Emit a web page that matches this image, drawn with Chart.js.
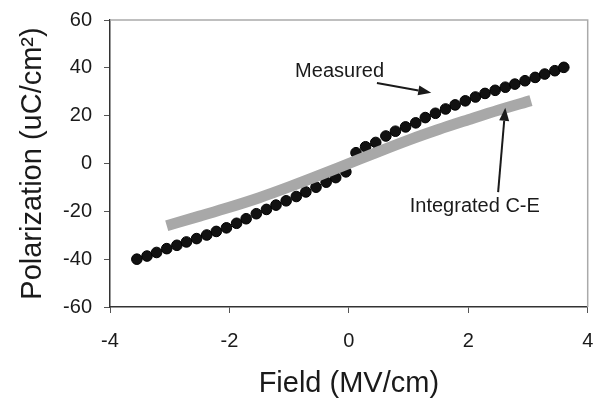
<!DOCTYPE html>
<html>
<head>
<meta charset="utf-8">
<script src="https://cdn.jsdelivr.net/npm/chart.js@4/dist/chart.umd.min.js"></script>
<style>
    html, body { margin: 0; padding: 0; background: #fff; }
    #wrap { width: 594px; height: 398px; position: relative; }
</style>
</head>
<body>
<div id="wrap"><canvas id="myChart"></canvas></div>
<script>
// measured polarization (dots)
const measuredField = [-3.55, -3.38, -3.22, -3.05, -2.88, -2.72, -2.55, -2.38, -2.22, -2.05,
    -1.88, -1.72, -1.55, -1.38, -1.22, -1.05, -0.88, -0.72, -0.55, -0.38, -0.22, -0.05,
    0.12, 0.28, 0.45, 0.62, 0.78, 0.95, 1.12, 1.28, 1.45, 1.62, 1.78, 1.95, 2.12, 2.28,
    2.45, 2.62, 2.78, 2.95, 3.12, 3.28, 3.45, 3.6]
const measuredPol = [-40.0, -38.7, -37.2, -35.6, -34.2, -32.8, -31.4, -29.9, -28.4, -26.9,
    -25.0, -23.1, -21.0, -19.2, -17.4, -15.6, -13.8, -11.9, -9.9, -7.8, -5.9, -3.5,
    4.5, 7.0, 8.8, 11.5, 13.5, 15.3, 17.0, 19.2, 21.0, 22.8, 24.5, 26.2, 27.8, 29.3,
    30.6, 31.9, 33.2, 34.6, 36.0, 37.4, 38.8, 40.2]

// integrated C-E (grey band)
const integratedField = [-3.05, -2.5, -2, -1.5, -1, -0.5, 0, 0.5, 1, 1.5, 2, 2.5, 3.05]
const integratedPol = [-26, -22, -18.3, -14.3, -9.8, -5, 0, 5, 9.8, 14.2, 18.3, 22.3, 26.3]

const xTicks = [-4, -2, 0, 2, 4]
const yTicks = [-60, -40, -20, 0, 20, 40, 60]

const toPoints = (xs, ys) => xs.map((x, i) => ({ x: x, y: ys[i] }))

// text labels with arrows, in data coordinates
const notes = [
    { text: 'Measured', x: -0.9, y: 38.3, tail: [0.47, 33.7], tip: [1.38, 29.6] },
    { text: 'Integrated C-E', x: 1.02, y: -17.9, tail: [2.5, -12], tip: [2.62, 23.3] }
]

const txt = '#1a1a1a'
const fontName = '"Liberation Sans", Arial, sans-serif'

const notesPlugin = {
    id: 'notes',
    afterDatasetsDraw(chart) {
        const ctx = chart.ctx
        const xs = chart.scales.x, ys = chart.scales.y
        const a = chart.chartArea
        ctx.save()
        // light frame on top and right
        ctx.strokeStyle = '#aaa'
        ctx.lineWidth = 1.5
        ctx.beginPath()
        ctx.moveTo(a.left, a.top)
        ctx.lineTo(a.right, a.top)
        ctx.lineTo(a.right, a.bottom)
        ctx.stroke()

        ctx.fillStyle = txt
        ctx.strokeStyle = txt
        ctx.font = '20px ' + fontName
        ctx.textBaseline = 'middle'
        ctx.textAlign = 'left'
        notes.forEach(n => {
            ctx.fillText(n.text, xs.getPixelForValue(n.x), ys.getPixelForValue(n.y))
            const x1 = xs.getPixelForValue(n.tail[0]), y1 = ys.getPixelForValue(n.tail[1])
            const x2 = xs.getPixelForValue(n.tip[0]), y2 = ys.getPixelForValue(n.tip[1])
            const ang = Math.atan2(y2 - y1, x2 - x1)
            const len = 13, half = 5
            const bx = x2 - len * Math.cos(ang), by = y2 - len * Math.sin(ang)
            ctx.lineWidth = 2
            ctx.beginPath()
            ctx.moveTo(x1, y1)
            ctx.lineTo(bx, by)
            ctx.stroke()
            ctx.beginPath()
            ctx.moveTo(x2, y2)
            ctx.lineTo(bx + half * Math.sin(ang), by - half * Math.cos(ang))
            ctx.lineTo(bx - half * Math.sin(ang), by + half * Math.cos(ang))
            ctx.closePath()
            ctx.fill()
        })
        ctx.restore()
    }
}

var ctx = document.getElementById('myChart').getContext('2d');
var myChart = new Chart(ctx, {
    type: 'scatter',
    data: {
        datasets: [{
            label: 'Integrated C-E',
            type: 'line',
            data: toPoints(integratedField, integratedPol),
            borderColor: '#a8a8a8',
            borderWidth: 11,
            borderCapStyle: 'butt',
            cubicInterpolationMode: 'monotone',
            pointRadius: 0,
            fill: false
        }, {
            label: 'Measured',
            data: toPoints(measuredField, measuredPol),
            showLine: false,
            pointRadius: 5.3,
            pointBackgroundColor: '#111',
            pointBorderColor: '#000',
            pointBorderWidth: 1
        }]
    },
    plugins: [notesPlugin],
    options: {
        responsive: true,
        maintainAspectRatio: false,
        animation: false,
        layout: { padding: { left: 18, top: 20, right: 4, bottom: 0 } },
        plugins: {
            legend: { display: false },
            tooltip: { enabled: false }
        },
        scales: {
            x: {
                type: 'linear',
                min: -4,
                max: 4,
                afterBuildTicks: s => { s.ticks = xTicks.map(v => ({ value: v })) },
                afterFit: s => { s.height = 91; s.paddingLeft = 0; s.paddingRight = 0 },
                grid: { display: true, drawOnChartArea: false, tickLength: 6, color: '#555' },
                border: { color: '#333', width: 1.5 },
                ticks: { color: txt, padding: 16, font: { size: 20, family: fontName } },
                title: {
                    display: true,
                    text: 'Field (MV/cm)',
                    color: txt,
                    padding: { top: 0, bottom: 0 },
                    font: { size: 29, family: fontName, lineHeight: 1 }
                }
            },
            y: {
                type: 'linear',
                min: -60,
                max: 60,
                afterBuildTicks: s => { s.ticks = yTicks.map(v => ({ value: v })) },
                afterFit: s => { s.width = 92; s.paddingTop = 0; s.paddingBottom = 0 },
                grid: { display: true, drawOnChartArea: false, tickLength: 6, color: '#555' },
                border: { color: '#333', width: 1.5 },
                ticks: { color: txt, padding: 12, font: { size: 20, family: fontName } },
                title: {
                    display: true,
                    text: 'Polarization (uC/cm²)',
                    color: txt,
                    padding: { top: 0, bottom: 0 },
                    font: { size: 29, family: fontName, lineHeight: 1 }
                }
            }
        }
    }
});
</script>
</body>
</html>
